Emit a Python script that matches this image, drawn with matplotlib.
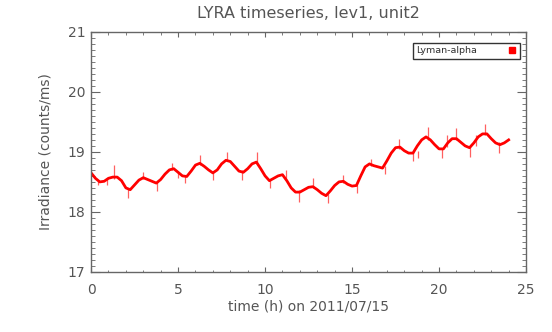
import numpy as np
import matplotlib
matplotlib.use('Agg')
import matplotlib.pyplot as plt
from matplotlib.ticker import MultipleLocator
from matplotlib.lines import Line2D

# LYRA Lyman-alpha irradiance, every 15 min
hours = [i * 0.25 for i in range(97)]
irradiance = [
    18.65, 18.56, 18.50, 18.51, 18.56, 18.58, 18.58, 18.52, 18.40, 18.37,
    18.45, 18.53, 18.57, 18.54, 18.51, 18.48, 18.54, 18.63, 18.70, 18.72,
    18.66, 18.60, 18.59, 18.68, 18.78, 18.81, 18.76, 18.70, 18.65, 18.70,
    18.80, 18.86, 18.84, 18.76, 18.68, 18.66, 18.72, 18.80, 18.83, 18.72,
    18.60, 18.52, 18.56, 18.60, 18.62, 18.52, 18.40, 18.33, 18.33, 18.37,
    18.41, 18.42, 18.37, 18.31, 18.27, 18.35, 18.44, 18.50, 18.51, 18.46,
    18.43, 18.44, 18.60, 18.75, 18.80, 18.77, 18.75, 18.73, 18.85, 18.98,
    19.07, 19.08, 19.02, 18.98, 18.98, 19.10, 19.20, 19.25, 19.20, 19.12,
    19.05, 19.05, 19.15, 19.22, 19.22, 19.16, 19.10, 19.07, 19.15, 19.25,
    19.30, 19.30, 19.22, 19.15, 19.12, 19.15, 19.20,
]

# single-sample spikes (time, low end, high end)
spike_t = [0.40, 0.90, 1.34, 2.14, 3.01, 3.78, 4.64, 5.02, 5.40, 6.26,
           6.99, 7.83, 8.66, 9.52, 10.29, 11.21, 11.97, 12.78, 13.60, 14.47,
           15.27, 16.09, 16.90, 17.72, 18.52, 18.81, 19.38, 20.16, 20.44, 20.98,
           21.78, 22.13, 22.64, 23.47]
spike_lo = [18.45, 18.45, 18.55, 18.23, 18.54, 18.34, 18.70, 18.57, 18.48, 18.78,
            18.53, 18.84, 18.53, 18.80, 18.40, 18.55, 18.17, 18.40, 18.15, 18.48,
            18.32, 18.76, 18.63, 19.04, 18.84, 18.90, 19.20, 18.90, 19.08, 19.20,
            18.92, 19.10, 19.28, 18.98]
spike_hi = [18.53, 18.55, 18.78, 18.40, 18.67, 18.50, 18.82, 18.68, 18.62, 18.95,
            18.68, 19.00, 18.70, 18.99, 18.55, 18.70, 18.36, 18.57, 18.30, 18.62,
            18.45, 18.88, 18.76, 19.21, 19.00, 19.02, 19.42, 19.06, 19.28, 19.40,
            19.10, 19.28, 19.47, 19.16]

text_col = '#555555'
axis_col = '#666666'
plt.rcParams['font.family'] = ['DejaVu Sans']

fig = plt.figure(figsize=(5.52, 3.32), dpi=100)
ax = fig.add_axes([0.165, 0.181, 0.788, 0.723])

ax.vlines(spike_t, spike_lo, spike_hi, color='#ff6060', lw=0.9)
ax.plot(hours, irradiance, color='#ff0000', lw=2.0)

ax.set_xlim(0, 25)
ax.set_ylim(17, 21)
ax.xaxis.set_major_locator(MultipleLocator(5))
ax.xaxis.set_minor_locator(MultipleLocator(1))
ax.yaxis.set_major_locator(MultipleLocator(1))
ax.yaxis.set_minor_locator(MultipleLocator(0.1))

ax.tick_params(axis='both', which='both', direction='in', top=True, right=True,
               color=axis_col, labelcolor=text_col, labelsize=10)
ax.tick_params(axis='x', which='major', length=3.5, pad=8)
ax.tick_params(axis='x', which='minor', length=1.8)
ax.tick_params(axis='y', which='major', length=6.3, pad=4)
ax.tick_params(axis='y', which='minor', length=3.1)
for s in ax.spines.values():
    s.set_color(axis_col)
    s.set_linewidth(1.0)

ax.set_title('LYRA timeseries, lev1, unit2', color=text_col, fontsize=11.5, pad=10)
ax.set_xlabel('time (h) on 2011/07/15', color=text_col, fontsize=10, labelpad=2)
ax.set_ylabel('Irradiance (counts/ms)', color=text_col, fontsize=10, labelpad=11)

handle = Line2D([], [], color='#ff0000', marker='s', ls='', markersize=4)
leg = ax.legend([handle], ['Lyman-alpha'], loc='upper right',
                bbox_to_anchor=(0.986, 0.954), borderaxespad=0, markerfirst=False,
                fancybox=False, fontsize=6.8, handlelength=1.0, handletextpad=3.2,
                borderpad=0.35)
for txt in leg.get_texts():
    txt.set_color('#303030')
leg.get_frame().set_edgecolor('black')
leg.get_frame().set_linewidth(1.0)

fig.savefig('out.png', dpi=100)
